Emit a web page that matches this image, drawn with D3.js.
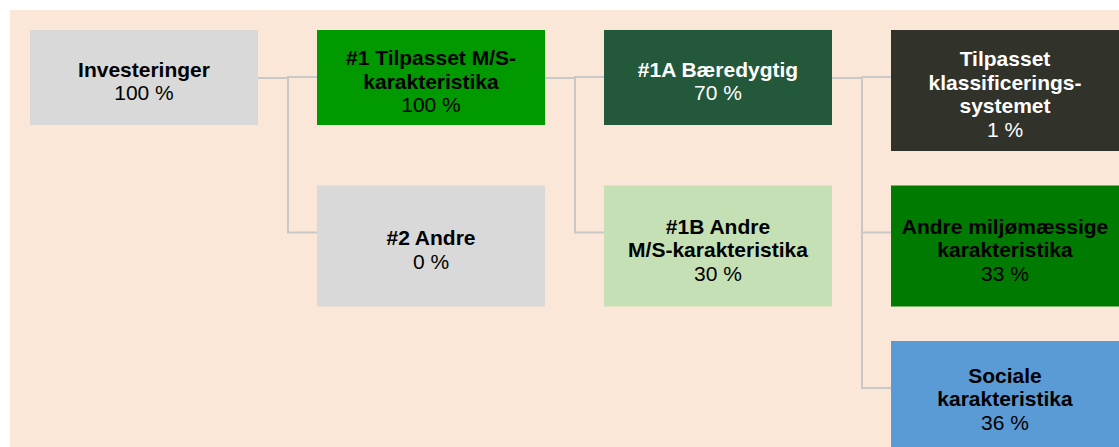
<!DOCTYPE html>
<html>
<head>
<meta charset="utf-8">
<script src="https://cdn.jsdelivr.net/npm/d3@7"></script>
<style>
  html, body { margin: 0; padding: 0; background: #fff; }
  svg { display: block; font-family: "Liberation Sans", Arial, sans-serif; }
</style>
</head>
<body>
<div class="holder"></div>
<script>
// data
const names = [
    ["Investeringer"],
    ["#1 Tilpasset M/S-", "karakteristika"],
    ["#2 Andre"],
    ["#1A Bæredygtig"],
    ["#1B Andre", "M/S-karakteristika"],
    ["Tilpasset", "klassificerings-", "systemet"],
    ["Andre miljømæssige", "karakteristika"],
    ["Sociale", "karakteristika"]
];
const shares = [100, 100, 0, 70, 30, 1, 33, 36];
const parents = [null, 0, 0, 1, 1, 3, 3, 3];
const levels = [0, 1, 1, 2, 2, 3, 3, 3];
const slots = [0, 0, 1, 0, 1, 0, 1, 2];
const fills = ["#d9d9d9", "#009900", "#d9d9d9", "#24583a", "#c5e0b4", "#31332b", "#007a00", "#5b9bd5"];
const inks = ["#000", "#000", "#000", "#fff", "#000", "#fff", "#000", "#000"];

// costants
const width = 1119,
    height = 447,
    boxW = 228,
    lineH = 23.5;

let svg = d3.select(".holder").append("svg")
    .attr("width", width)
    .attr("height", height);

svg.append("rect")
    .attr("x", 10).attr("y", 10)
    .attr("width", width - 10).attr("height", height - 10)
    .attr("fill", "#fae7d7");

let xScale = d3.scaleLinear().domain([0, 3]).range([30, 891]);
let yScale = d3.scaleLinear().domain([0, 2]).range([30, 341]);

let nodes = names.map((n, i) => {
    let lines = n.concat([shares[i] + " %"]);
    let top = yScale(slots[i]);
    let h = slots[i] === 0 ? (lines.length > 3 ? 121 : 95) : (slots[i] === 1 ? 121 : height + 2 - top);
    return { i: i, lines: lines, x: xScale(levels[i]), y: top, h: h };
});

// connectors
nodes.filter(d => parents[d.i] !== null).forEach(d => {
    let p = nodes[parents[d.i]];
    let elbow = p.x + boxW + 30;
    let path = d3.path();
    path.moveTo(p.x + boxW, p.y + 48);
    path.lineTo(elbow, p.y + 48);
    path.lineTo(elbow, d.y + 47);
    path.lineTo(d.x, d.y + 47);
    svg.append("path").attr("d", path.toString())
        .attr("fill", "none")
        .attr("stroke", "#c8c8c8")
        .attr("stroke-width", 2);
});

// boxes
let box = svg.selectAll("g.box").data(nodes).enter().append("g")
    .attr("class", "box");
box.append("rect")
    .attr("x", d => d.x).attr("y", d => d.y)
    .attr("width", boxW).attr("height", d => d.h)
    .attr("fill", d => fills[d.i]);

box.each(function (d) {
    let cy = d.y + d.h / 2;
    let first = cy - (d.lines.length - 1) * lineH / 2 + 11;
    d3.select(this).selectAll("text").data(d.lines).enter().append("text")
        .attr("x", d.x + boxW / 2)
        .attr("y", (t, k) => first + k * lineH)
        .attr("text-anchor", "middle")
        .attr("font-size", 21)
        .attr("font-weight", (t, k) => k === d.lines.length - 1 ? "normal" : "bold")
        .attr("fill", inks[d.i])
        .text(t => t);
});
</script>
</body>
</html>
